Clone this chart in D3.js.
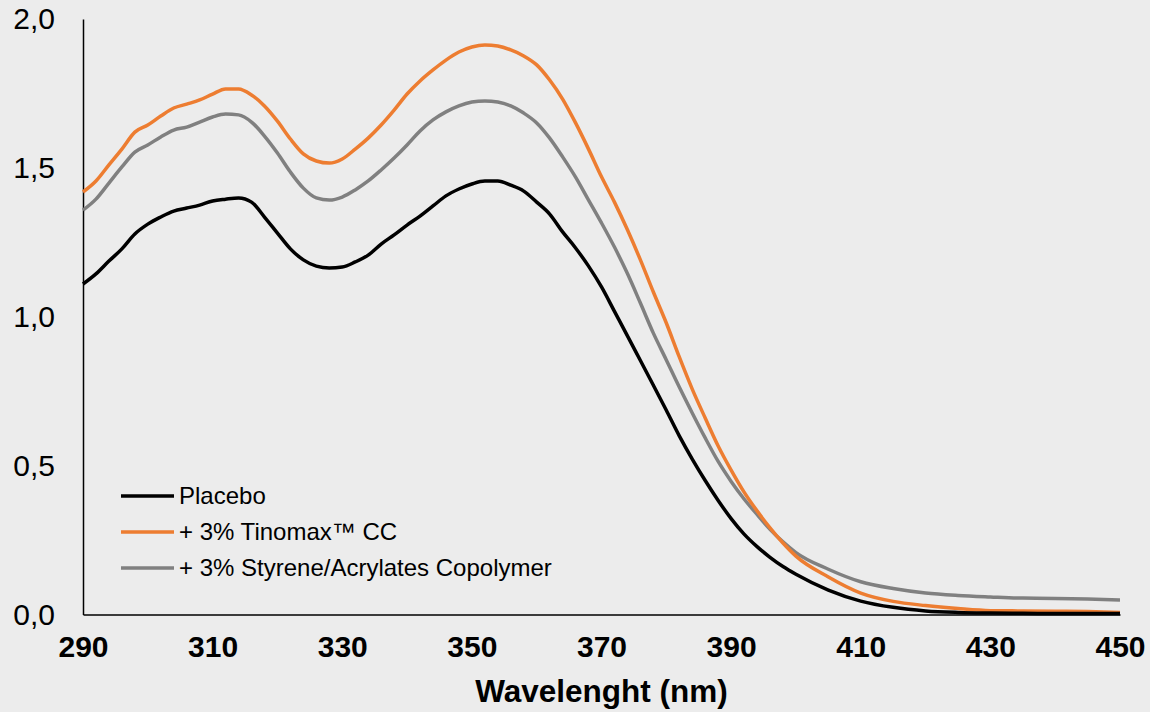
<html><head>
<style>
body {
  margin: 0;
  padding: 0;
  background-color: #ececec;
  font-family: 'Liberation Sans', Arial, sans-serif;
}
svg { display: block; }
</style>
</head>
<body>
<svg id="chart" width="1150" height="712"></svg>

<script src="https://d3js.org/d3.v7.min.js"></script>
<script>
// wavelengths (nm)
const wavelength = [290,292,294,296,298,300,302,304,306,308,310,312,314,316,318,320,322,324,326,328,
  330,332,334,336,338,340,342,344,346,348,350,352,354,356,358,360,362,364,366,368,
  370,372,374,376,378,380,382,384,386,388,390,392,394,396,398,400,405,410,415,420,
  425,430,435,440,445,450];

const placebo = [1.110,1.144,1.187,1.228,1.278,1.311,1.335,1.355,1.365,1.375,1.389,1.395,1.399,1.385,1.335,1.281,1.228,1.191,1.170,1.164,
  1.167,1.184,1.207,1.244,1.275,1.308,1.338,1.372,1.406,1.429,1.446,1.456,1.456,1.442,1.422,1.385,1.345,1.285,1.231,1.170,
  1.100,1.018,0.936,0.853,0.770,0.686,0.600,0.522,0.450,0.383,0.322,0.270,0.228,0.192,0.161,0.135,0.082,0.045,0.024,0.012,
  0.007,0.005,0.004,0.003,0.003,0.003];

const tinomax = [1.419,1.456,1.510,1.563,1.620,1.644,1.674,1.701,1.714,1.728,1.748,1.765,1.765,1.745,1.708,1.657,1.597,1.547,1.523,1.516,
  1.530,1.563,1.600,1.644,1.694,1.748,1.792,1.829,1.862,1.889,1.906,1.913,1.909,1.896,1.876,1.846,1.795,1.731,1.651,1.563,
  1.470,1.385,1.292,1.191,1.083,0.979,0.865,0.757,0.660,0.566,0.485,0.411,0.348,0.291,0.240,0.196,0.126,0.072,0.044,0.030,
  0.020,0.013,0.012,0.011,0.010,0.007];

const styrene = [1.358,1.395,1.449,1.503,1.553,1.577,1.604,1.627,1.637,1.654,1.671,1.681,1.678,1.654,1.607,1.550,1.486,1.432,1.399,1.392,
  1.402,1.426,1.456,1.493,1.533,1.577,1.624,1.661,1.688,1.708,1.721,1.725,1.721,1.708,1.684,1.651,1.600,1.537,1.469,1.392,
  1.315,1.234,1.145,1.046,0.945,0.855,0.764,0.677,0.593,0.514,0.447,0.388,0.336,0.286,0.244,0.208,0.152,0.110,0.087,0.072,
  0.064,0.059,0.055,0.054,0.052,0.049];

const seriesNames = ["Placebo", "+ 3% Tinomax\u2122 CC", "+ 3% Styrene/Acrylates Copolymer"];
const seriesColors = ["#000000", "#ed7d31", "#808080"];
const xTicks = [290, 310, 330, 350, 370, 390, 410, 430, 450];
const yTicks = [0, 0.5, 1, 1.5, 2];

const svg = d3.select("#chart");
const margin = {top: 19, right: 30, bottom: 97.5, left: 83};
const width = 1150 - margin.left - margin.right;
const height = 712 - margin.top - margin.bottom;

const g = svg.append("g").attr("transform", `translate(${margin.left},${margin.top})`);

const x = d3.scaleLinear().domain([290, 450]).range([0, width]);
const y = d3.scaleLinear().domain([0, 2]).range([height, 0]);

const fmt = d => d3.format(".1f")(d).replace(".", ",");

// axes
const yAxis = g.append("g")
  .call(d3.axisLeft(y).tickValues(yTicks).tickSize(0).tickPadding(28).tickFormat(fmt));
yAxis.select(".domain").attr("stroke", "#000").attr("stroke-width", 1.5);
yAxis.selectAll("text")
  .attr("font-family", "'Liberation Sans', Arial, sans-serif")
  .attr("font-size", 30)
  .attr("fill", "#000");

const xAxis = g.append("g")
  .attr("transform", `translate(0,${height})`)
  .call(d3.axisBottom(x).tickValues(xTicks).tickSize(0).tickPadding(21).tickFormat(d3.format("d")));
xAxis.select(".domain").attr("stroke", "#000").attr("stroke-width", 1.5);
xAxis.selectAll("text")
  .attr("font-family", "'Liberation Sans', Arial, sans-serif")
  .attr("font-size", 30)
  .attr("font-weight", "bold")
  .attr("fill", "#000");

g.append("text")
  .attr("x", width / 2)
  .attr("y", height + 87)
  .attr("text-anchor", "middle")
  .attr("font-size", 31.5)
  .attr("font-weight", "bold")
  .attr("fill", "#000")
  .text("Wavelenght (nm)");

// lines
const line = d3.line()
  .x((d, i) => x(wavelength[i]))
  .y(d => y(d))
  .curve(d3.curveMonotoneX);

// draw order: grey, orange, black on top
const allSeries = [placebo, tinomax, styrene];
[2, 1, 0].forEach(k => {
  g.append("path")
    .datum(allSeries[k])
    .attr("fill", "none")
    .attr("stroke", seriesColors[k])
    .attr("stroke-width", 3.5)
    .attr("stroke-linejoin", "round")
    .attr("d", line);
});

// legend
const legend = g.append("g").attr("transform", "translate(38,477)");
seriesNames.forEach((name, i) => {
  const row = legend.append("g").attr("transform", `translate(0,${i * 36})`);
  row.append("line")
    .attr("x1", 0).attr("x2", 53)
    .attr("stroke", seriesColors[i])
    .attr("stroke-width", 3.5);
  row.append("text")
    .attr("x", 58)
    .attr("dy", "0.35em")
    .attr("font-size", 24)
    .attr("fill", "#000")
    .text(name);
});
</script>
</body>
</html>
